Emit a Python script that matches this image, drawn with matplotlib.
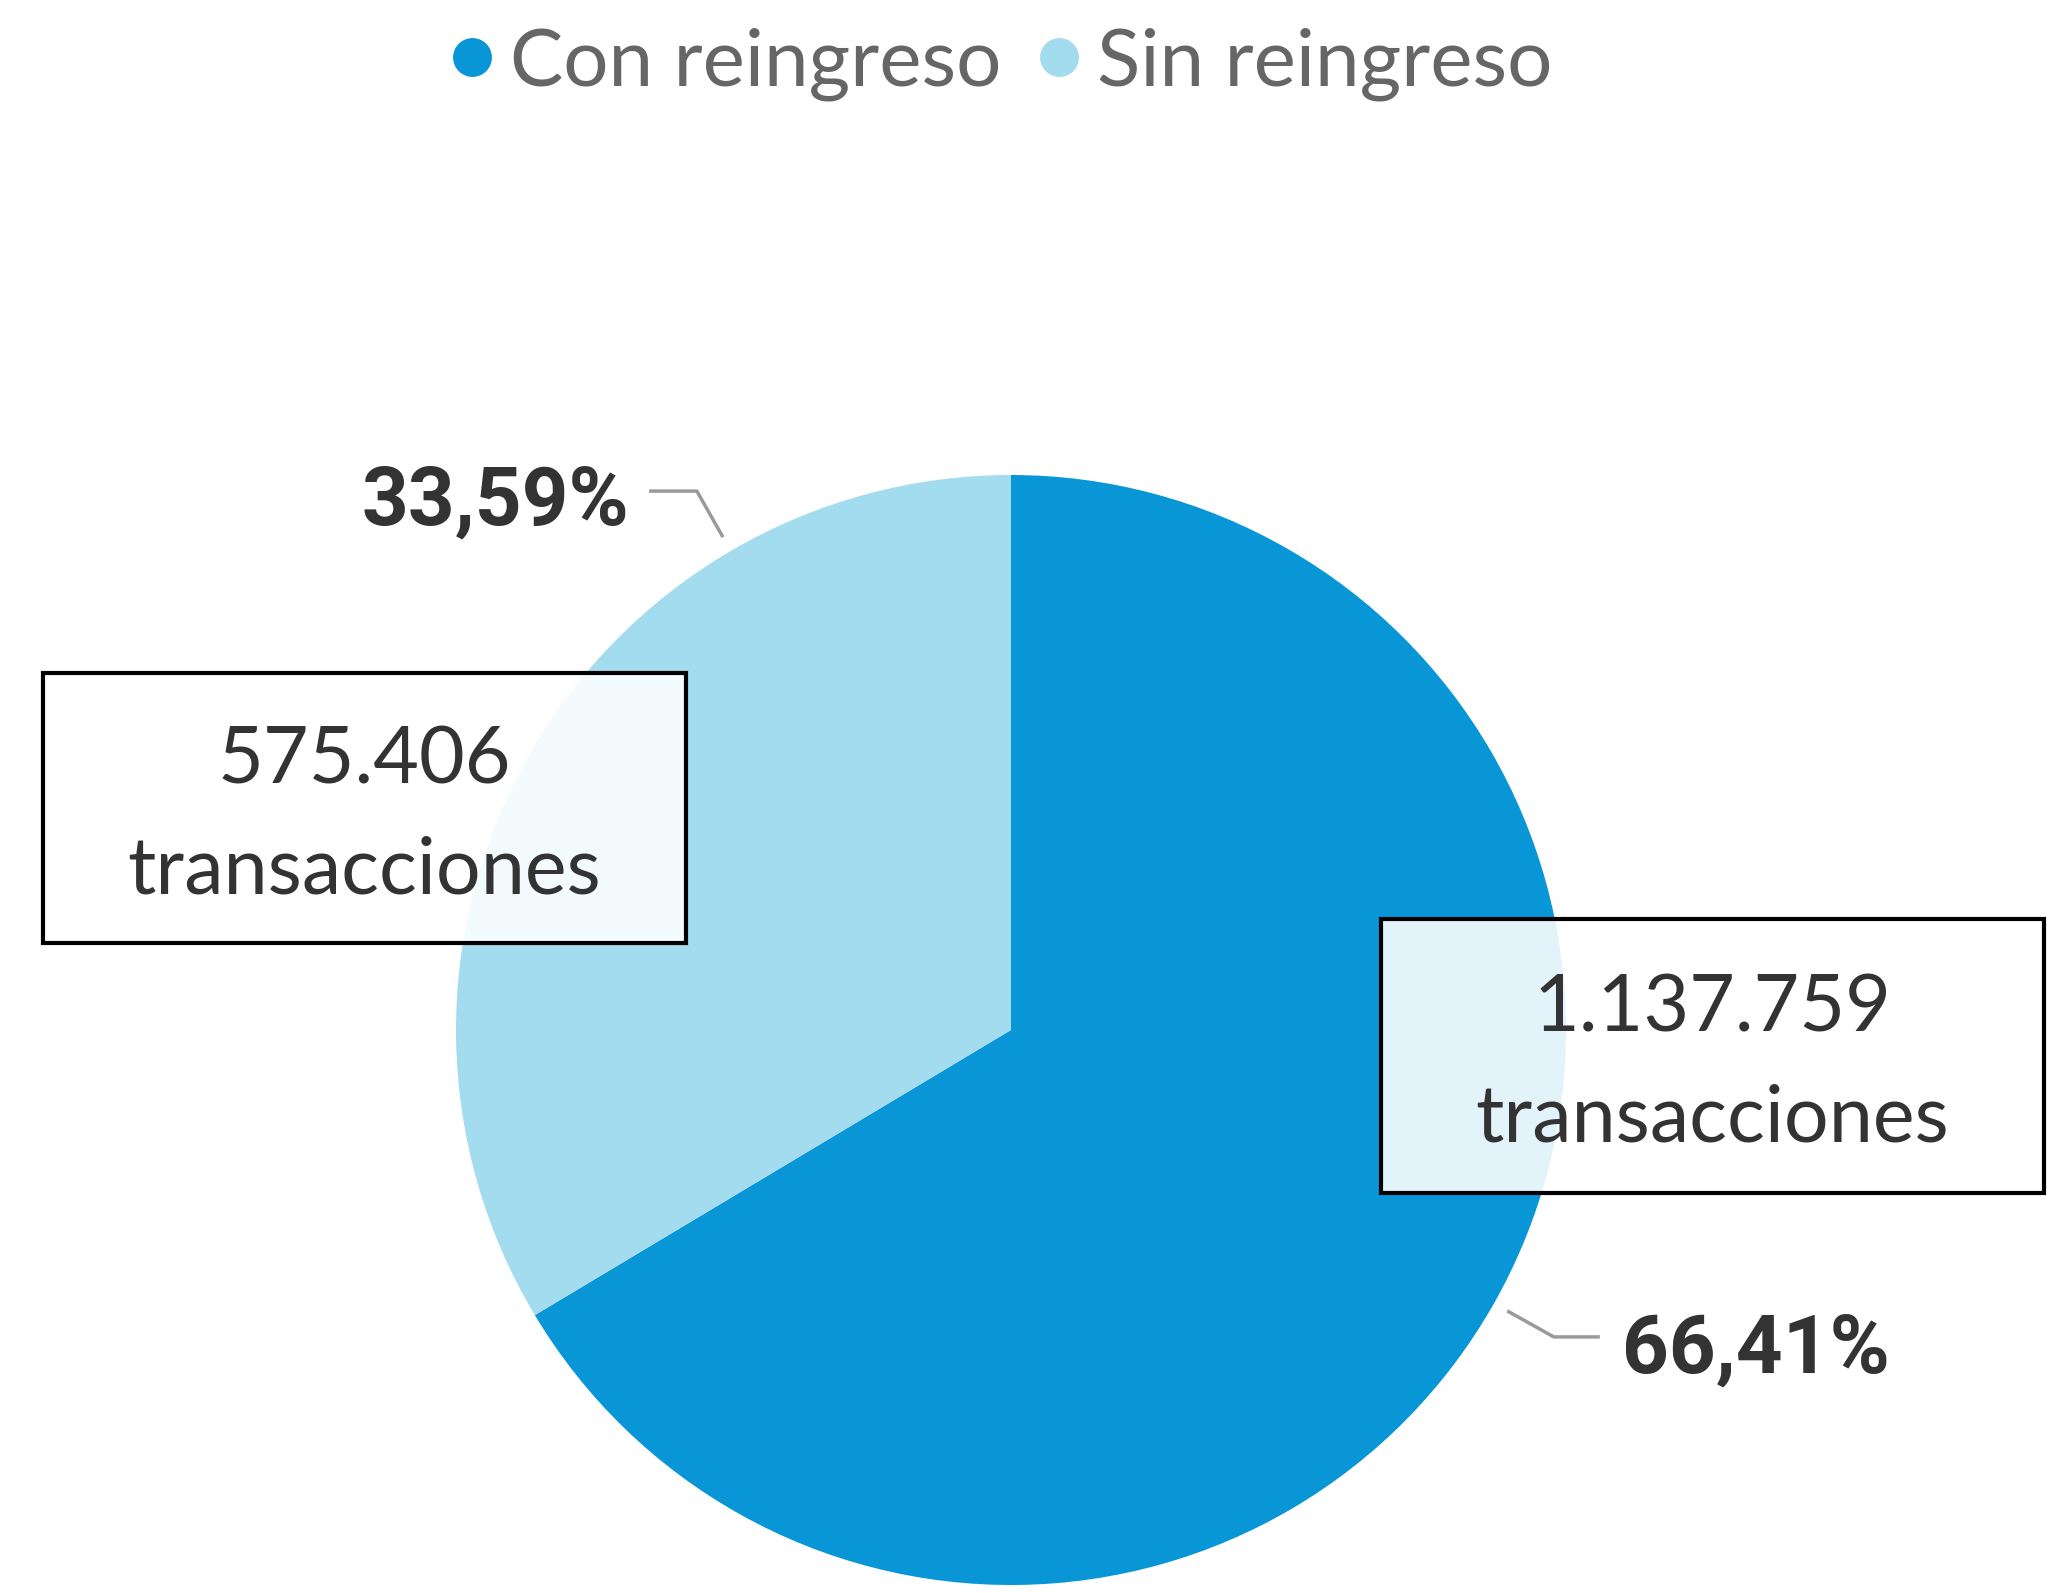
import matplotlib
matplotlib.use("Agg")
import matplotlib.pyplot as plt
from matplotlib.patches import Rectangle
from matplotlib.lines import Line2D
import numpy as np

# ---- data ----
categories = ["Con reingreso", "Sin reingreso"]
transactions = [1137759, 575406]
colors = ["#0896D7", "#A3DCEE"]
unit_label = "transacciones"

W, H = 2049, 1593
fig = plt.figure(figsize=(W / 100, H / 100), dpi=100)
fig.patch.set_facecolor("white")


def fx(x):
    return x / W


def fy(y):
    return 1 - y / H


def fit_size(s, target, **kw):
    t = fig.text(0, 0, s, fontsize=100, **kw)
    r = fig.canvas.get_renderer()
    w = t.get_window_extent(r).width
    t.remove()
    return 100 * target / w


def fmt_int(v):
    return f"{v:,}".replace(",", ".")


def fmt_pct(p):
    return f"{p:.2f}%".replace(".", ",")


# ---- pie ----
cx, cy, R = 1011, 1030, 555
ax = fig.add_axes([fx(cx - R), fy(cy + R), 2 * R / W, 2 * R / H])
ax.pie(transactions, colors=colors, startangle=90, counterclock=False,
       radius=1, wedgeprops=dict(linewidth=0))
ax.set_xlim(-1, 1)
ax.set_ylim(-1, 1)
ax.set_aspect("equal")
ax.axis("off")

total = sum(transactions)
pcts = [100 * v / total for v in transactions]

text_font = "Lato"
dark = "#333333"

# ---- percentage labels and leader lines ----
pct_kw = dict(family="Roboto", weight="bold", color=dark)
ps = fit_size(fmt_pct(pcts[1]), 268, **pct_kw)
fig.text(fx(629), fy(525), fmt_pct(pcts[1]), ha="right", va="baseline",
         fontsize=ps, **pct_kw)
fig.text(fx(1622), fy(1373), fmt_pct(pcts[0]), ha="left", va="baseline",
         fontsize=ps, **pct_kw)

lead_c = "#9A9A9A"
# leader for Sin reingreso (pie data coords)
ax.plot([-0.519, -0.566, -0.652], [0.888, 0.971, 0.971], color=lead_c,
        lw=2.5, clip_on=False, solid_capstyle="butt")
# leader for Con reingreso
ax.plot([0.894, 0.978, 1.061], [-0.506, -0.553, -0.553], color=lead_c,
        lw=2.5, clip_on=False, solid_capstyle="butt")

# ---- value boxes ----
boxes = [
    (transactions[1], (43, 673, 686, 943), (784, 893)),
    (transactions[0], (1381, 919, 2044, 1193), (1032, 1141)),
]
bs = fit_size(unit_label, 473, family=text_font)
for val, (x0, y0, x1, y1), (b1, b2) in boxes:
    rect = Rectangle((fx(x0), fy(y1)), (x1 - x0) / W, (y1 - y0) / H,
                     transform=fig.transFigure, facecolor=(1, 1, 1, 0.89),
                     edgecolor="black", linewidth=3, zorder=5)
    fig.add_artist(rect)
    xc = (x0 + x1) / 2
    fig.text(fx(xc), fy(b1), fmt_int(val), ha="center", va="baseline",
             fontsize=bs, family=text_font, color=dark, zorder=6)
    fig.text(fx(xc), fy(b2), unit_label, ha="center", va="baseline",
             fontsize=bs, family=text_font, color=dark, zorder=6)

# ---- legend ----
ls = fit_size(categories[0], 491, family=text_font)
handles = [Line2D([], [], marker="o", ls="", markersize=28, color=c,
                  markeredgewidth=0) for c in colors]
leg = fig.legend(handles, categories, loc="center", ncol=2,
                 bbox_to_anchor=(fx(1003), fy(64)), frameon=False,
                 prop=dict(family=text_font, size=ls), handlelength=0.45,
                 handletextpad=0.25, columnspacing=0.5, borderaxespad=0,
                 borderpad=0)
for t in leg.get_texts():
    t.set_color("#666666")

fig.savefig("out.png", dpi=100, facecolor="white")
